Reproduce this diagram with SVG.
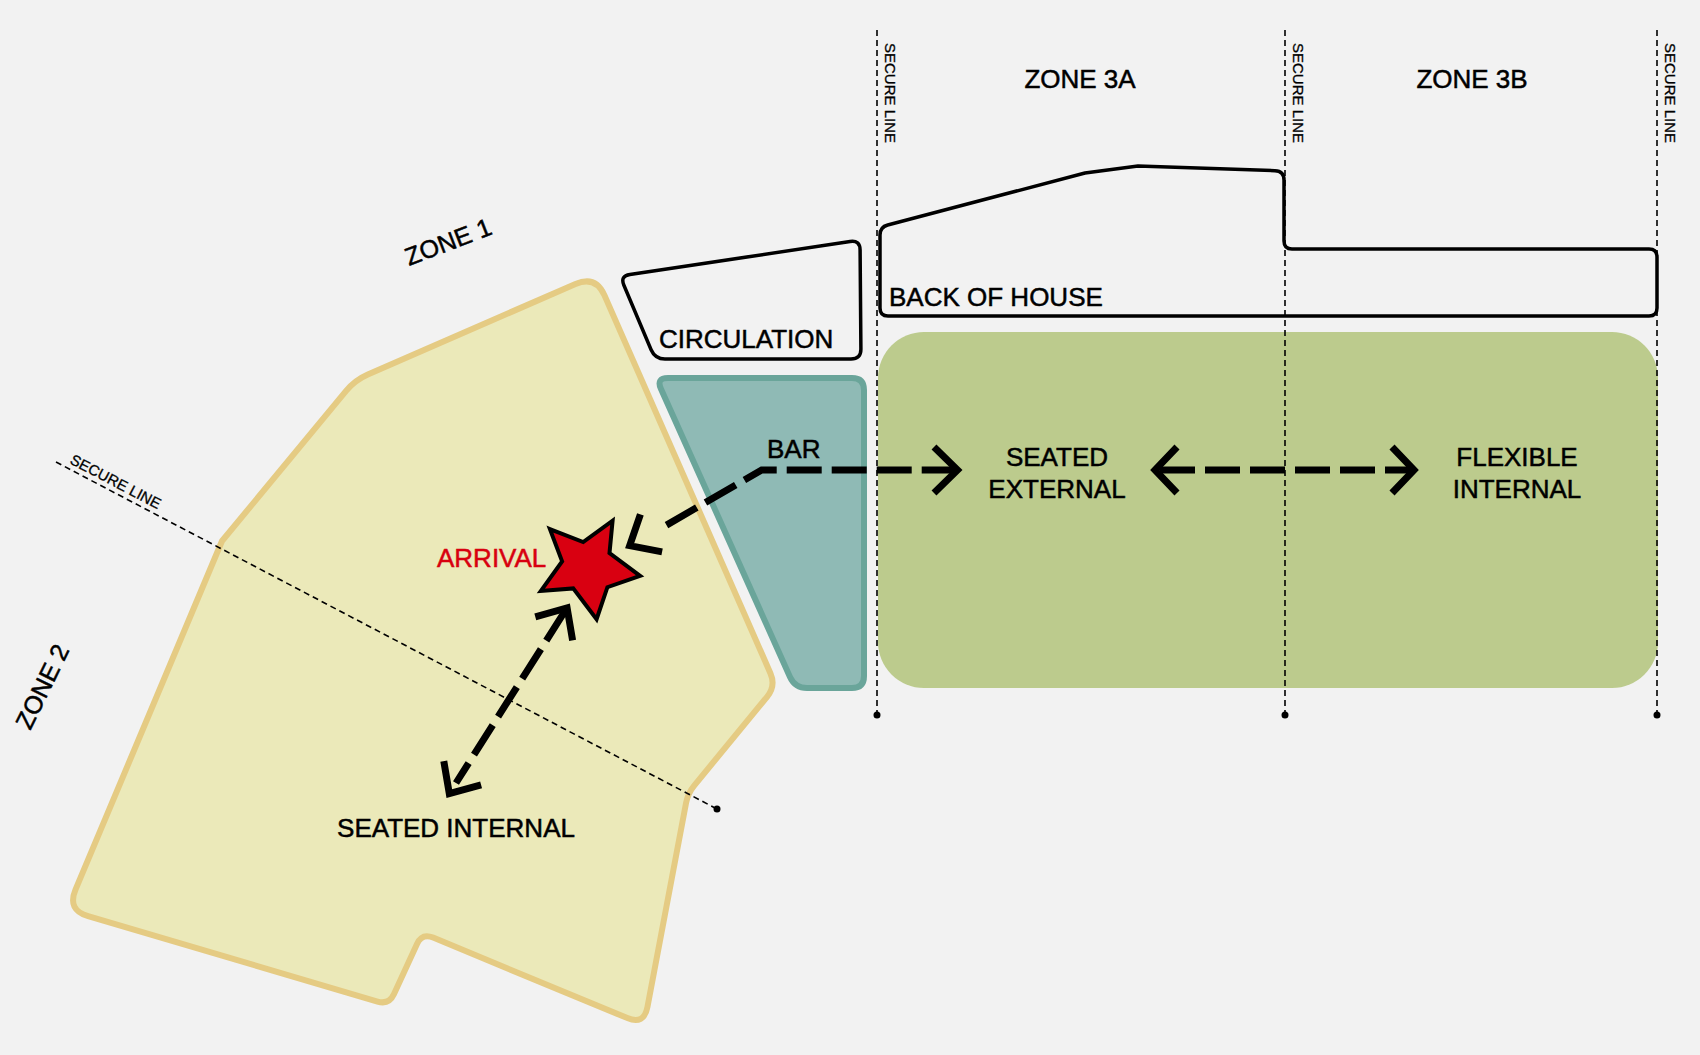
<svg xmlns="http://www.w3.org/2000/svg" width="1700" height="1055" viewBox="0 0 1700 1055">
<style>
text{font-family:"Liberation Sans",Arial,Helvetica,sans-serif;fill:#000;stroke:#000;stroke-width:0.5}
.lbl{font-size:26px}
.zone{font-size:25px}
.sec{font-size:15px;stroke-width:0.3}
.red{fill:#d8000f;stroke:#d8000f}
.secline{stroke:#000;stroke-width:1.6;stroke-dasharray:6 4;fill:none}
.outline{fill:none;stroke:#000;stroke-width:3.5;stroke-linejoin:round}
.flow{fill:none;stroke:#000;stroke-width:7;stroke-dasharray:35 10}
.head{fill:none;stroke:#000;stroke-width:7;stroke-linejoin:miter;stroke-miterlimit:10}
</style>
<rect width="1700" height="1055" fill="#f2f2f2"/>

<g id="seated-internal">
<path d="M 367.8,374.4 L 575.5,284 Q 595.7,275.2 604.5,295.4 L 770.4,673.2 Q 776,686 767.1,696.8 L 694.4,785.3 Q 688,793 686.1,802.8 L 647.4,1007.3 Q 644,1025 627.4,1018.1 L 433.1,937.6 Q 422,933 417,943.9 L 394,994.1 Q 389,1005 377.5,1001.6 L 88.1,916.2 Q 67,910 75.5,889.7 L 222,541 L 346.1,390.8 Q 355,380 367.8,374.4 Z" fill="#ebe9b9" stroke="#e5cb83" stroke-width="6" stroke-linejoin="round"/>
<text class="lbl" x="456" y="837" text-anchor="middle">SEATED INTERNAL</text>
</g>

<g id="bar">
<path d="M 668,378 L 852,378 Q 864,378 864,390 L 864,676 Q 864,688 852,688 L 807,688 Q 795,688 790,677 L 661,389 Q 656,378 668,378 Z" fill="#8fbab5" stroke="#6aa59a" stroke-width="6" stroke-linejoin="round"/>
<text class="lbl" x="767" y="458">BAR</text>
</g>

<g id="seated-external-flexible-internal">
<rect x="878" y="332" width="780" height="356" rx="46" ry="46" fill="#bccb8d"/>
<text class="lbl" x="1057" y="466" text-anchor="middle">SEATED</text>
<text class="lbl" x="1057" y="498" text-anchor="middle">EXTERNAL</text>
<text class="lbl" x="1517" y="466" text-anchor="middle">FLEXIBLE</text>
<text class="lbl" x="1517" y="498" text-anchor="middle">INTERNAL</text>
</g>

<g id="circulation">
<path class="outline" d="M 629.9,274.5 L 850.1,241.5 Q 860,240 860.1,250 L 860.9,349 Q 861,359 851,359 L 665,359 Q 655,359 651.1,349.8 L 623.9,285.2 Q 620,276 629.9,274.5 Z"/>
<text class="lbl" x="659" y="348">CIRCULATION</text>
</g>

<g id="back-of-house">
<path class="outline" d="M 880,308 L 880,235 Q 880,227 887.7,225 L 1085,173 L 1138,166 L 1275,170.7 Q 1284,171 1284,180 L 1284,241 Q 1284,249 1292,249 L 1649,249 Q 1657,249 1657,257 L 1657,308 Q 1657,316 1649,316 L 888,316 Q 880,316 880,308 Z"/>
<text class="lbl" x="889" y="306">BACK OF HOUSE</text>
</g>

<g id="secure-lines">
<line class="secline" x1="877" y1="30" x2="877" y2="715"/>
<line class="secline" x1="1285" y1="30" x2="1285" y2="715"/>
<line class="secline" x1="1657" y1="30" x2="1657" y2="715"/>
<circle cx="877" cy="715" r="3.5"/>
<circle cx="1285" cy="715" r="3.5"/>
<circle cx="1657" cy="715" r="3.5"/>
<text class="sec" x="885" y="43" transform="rotate(90 885 43)">SECURE LINE</text>
<text class="sec" x="1293" y="43" transform="rotate(90 1293 43)">SECURE LINE</text>
<text class="sec" x="1665" y="43" transform="rotate(90 1665 43)">SECURE LINE</text>
<line class="secline" x1="56" y1="462" x2="717" y2="809"/>
<circle cx="717" cy="809" r="3.5"/>
<text class="sec" x="69" y="463" transform="rotate(27.7 69 463)">SECURE LINE</text>
</g>

<g id="zone-labels">
<text class="zone" x="448" y="250.5" text-anchor="middle" transform="rotate(-21 448 241.5)">ZONE 1</text>
<text class="zone" x="42" y="695.5" text-anchor="middle" transform="rotate(-64 42 686.5)">ZONE 2</text>
<text class="lbl" x="1080" y="88" text-anchor="middle">ZONE 3A</text>
<text class="lbl" x="1472" y="88" text-anchor="middle">ZONE 3B</text>
</g>

<g id="connectors">
<path class="flow" d="M 666.5,525.1 L 761.7,470 L 957,470"/>
<path class="head" d="M 640.4,514.4 L 629.7,545.6 L 662.1,551.9"/>
<path class="head" d="M 934,447 L 957.5,470 L 934,493"/>
<path class="flow" d="M 1160,470 L 1410,470"/>
<path class="head" d="M 1177,447 L 1155,470 L 1177,493"/>
<path class="head" d="M 1392,447 L 1414,470 L 1392,493"/>
<path class="flow" d="M 565,611 L 456,783"/>
<path class="head" d="M 535.3,616.8 L 567.1,607.9 L 572.6,640.4"/>
<path class="head" d="M 481.1,784.8 L 449.3,793.7 L 443.8,761.2"/>
</g>

<g id="arrival">
<polygon points="549.9,529.1 583.2,542 612.6,520.7 609.5,553 640.1,575.8 607.4,587.2 596.6,619.2 573.2,588.4 540.9,590.9 562.1,561.4" fill="#d90011" stroke="#000" stroke-width="4" stroke-linejoin="miter"/>
<text class="lbl red" x="437" y="567">ARRIVAL</text>
</g>
</svg>
